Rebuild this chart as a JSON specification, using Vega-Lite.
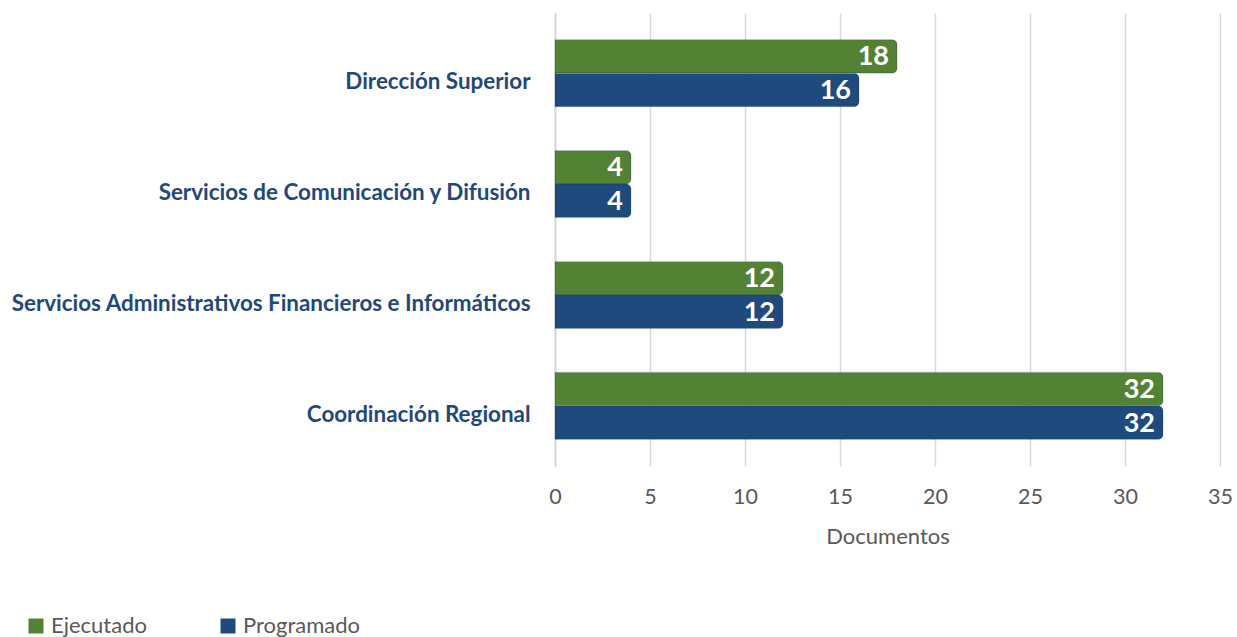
{
  "$schema": "https://vega.github.io/schema/vega-lite/v6.json",
  "width": 665,
  "height": 453,
  "padding": {"left": 10, "top": 13, "right": 0, "bottom": 5},
  "background": "white",
  "config": {
    "view": {"stroke": null},
    "font": "Lato"
  },
  "data": {
    "values": [
      {"area": "Dirección Superior", "serie": "Ejecutado", "documentos": 18},
      {"area": "Dirección Superior", "serie": "Programado", "documentos": 16},
      {"area": "Servicios de Comunicación y Difusión", "serie": "Ejecutado", "documentos": 4},
      {"area": "Servicios de Comunicación y Difusión", "serie": "Programado", "documentos": 4},
      {"area": "Servicios Administrativos Financieros e Informáticos", "serie": "Ejecutado", "documentos": 12},
      {"area": "Servicios Administrativos Financieros e Informáticos", "serie": "Programado", "documentos": 12},
      {"area": "Coordinación Regional", "serie": "Ejecutado", "documentos": 32},
      {"area": "Coordinación Regional", "serie": "Programado", "documentos": 32}
    ]
  },
  "encoding": {
    "y": {
      "field": "area",
      "type": "nominal",
      "sort": null,
      "title": null,
      "scale": {"paddingInner": 0.395, "paddingOuter": 0.24},
      "axis": {
        "labelFont": "Lato",
        "labelFontWeight": "bold",
        "labelFontSize": 22.4,
        "labelColor": "#1F497D",
        "labelPadding": 25,
        "labelOffset": 9,
        "labelLimit": 700,
        "ticks": false,
        "domain": true,
        "domainColor": "#D9D9D9",
        "domainWidth": 2,
        "grid": false
      }
    },
    "yOffset": {
      "field": "serie",
      "type": "nominal",
      "sort": ["Ejecutado", "Programado"],
      "scale": {"paddingInner": 0}
    },
    "x": {
      "field": "documentos",
      "type": "quantitative",
      "title": "Documentos",
      "scale": {"domain": [0, 35], "nice": false},
      "axis": {
        "values": [0, 5, 10, 15, 20, 25, 30, 35],
        "labelFont": "Lato",
        "labelFontSize": 21.5,
        "labelColor": "#595959",
        "labelPadding": 20,
        "labelFlush": false,
        "labelOverlap": false,
        "titleFont": "Lato",
        "titleFontSize": 22,
        "titleFontWeight": "normal",
        "titleColor": "#595959",
        "titlePadding": 19,
        "ticks": false,
        "domain": false,
        "grid": true,
        "gridColor": "#D9D9D9",
        "gridWidth": 1.5
      }
    }
  },
  "layer": [
    {
      "mark": {"type": "bar", "cornerRadiusEnd": 5, "stroke": "#17365D", "strokeWidth": 0.6, "strokeOpacity": 0.35},
      "encoding": {
        "color": {
          "field": "serie",
          "type": "nominal",
          "sort": ["Ejecutado", "Programado"],
          "scale": {"domain": ["Ejecutado", "Programado"], "range": ["#548235", "#1F4A7E"]},
          "legend": {
            "title": null,
            "orient": "none",
            "legendX": -530,
            "legendY": 602,
            "direction": "horizontal",
            "symbolType": "square",
            "symbolSize": 225,
            "symbolStrokeWidth": 0,
            "labelFont": "Lato",
            "labelFontSize": 22,
            "labelColor": "#595959",
            "labelOffset": 4,
            "columnPadding": 70
          }
        }
      }
    },
    {
      "mark": {"type": "text", "align": "right", "baseline": "middle", "dx": -8, "dy": 1, "color": "white", "fontWeight": "bold", "fontSize": 27, "font": "Lato"},
      "encoding": {
        "text": {"field": "documentos", "type": "quantitative"}
      }
    }
  ]
}
